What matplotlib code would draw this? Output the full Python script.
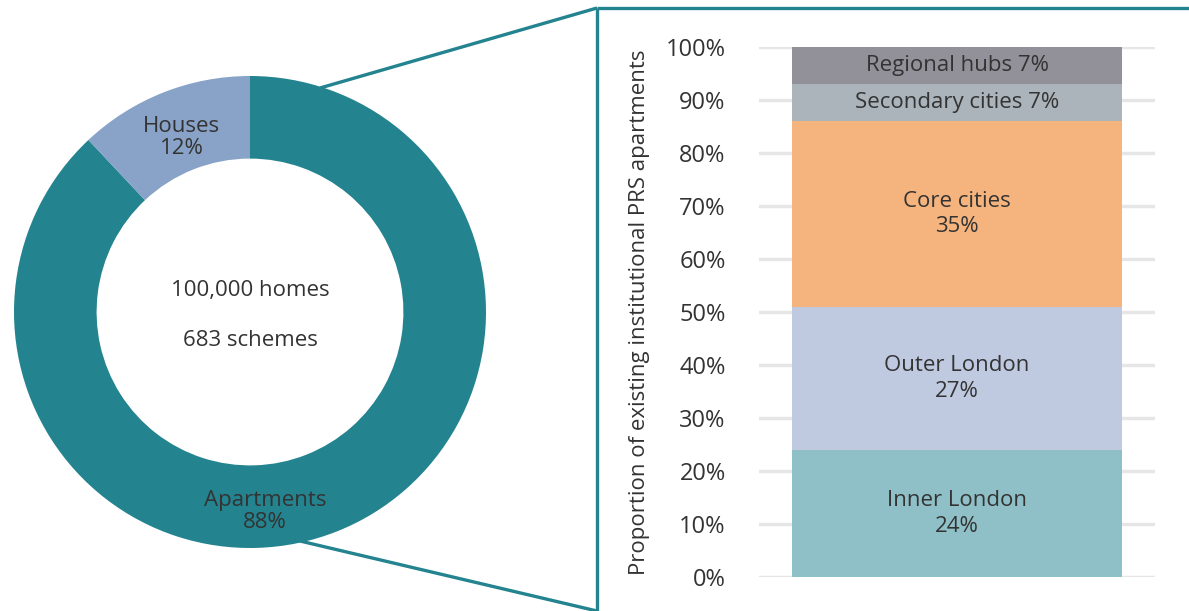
import matplotlib.pyplot as plt
from matplotlib.lines import Line2D

plt.rcParams['font.family'] = ['Open Sans', 'DejaVu Sans']

# Stock split by type (donut)
types = ['Apartments', 'Houses']
type_share = [88, 12]
type_colors = ['#23838f', '#88a3c7']
total_homes = '100,000 homes'
total_schemes = '683 schemes'

# Apartments split by location (stacked bar)
regions = ['Inner London', 'Outer London', 'Core cities', 'Secondary cities', 'Regional hubs']
region_share = [24, 27, 35, 7, 7]
region_colors = ['#90c0c7', '#bfc9e0', '#f5b47e', '#abb4bb', '#929099']
yticks = list(range(0, 101, 10))

teal = '#23838f'
text_col = '#333333'
fs = 16

W, H = 1189, 611
fig = plt.figure(figsize=(W / 100, H / 100), dpi=100)


def fx(px):
    return px / W


def fy(py):
    return 1 - py / H


# --- donut ---
ax1 = fig.add_axes([fx(14), fy(548), fx(472), 472 / H])
ax1.pie(type_share, colors=type_colors, startangle=90, counterclock=False,
        radius=1, wedgeprops=dict(width=0.35, edgecolor='none'))
ax1.set_xlim(-1, 1)
ax1.set_ylim(-1, 1)
ax1.set_aspect('equal')
ax1.axis('off')

ax1.text(0, 0.093, total_homes, ha='center', va='center', fontsize=fs, color=text_col)
ax1.text(0, -0.12, total_schemes, ha='center', va='center', fontsize=fs, color=text_col)
ax1.text(0.064, -0.845, f'{types[0]}\n{type_share[0]}%', ha='center', va='center',
         fontsize=fs, color=text_col, linespacing=1.1)
ax1.text(-0.29, 0.74, f'{types[1]}\n{type_share[1]}%', ha='center', va='center',
         fontsize=fs, color=text_col, linespacing=1.05)

# --- zoom connector and frame ---
lw = 2.4
for (x0, y0), (x1, y1) in [((320, 88), (597, 8)), ((300, 541), (597, 611)),
                           ((597, 8), (597, 611)), ((597, 8), (1189, 8))]:
    fig.add_artist(Line2D([fx(x0), fx(x1)], [fy(y0), fy(y1)], color=teal,
                          lw=lw, transform=fig.transFigure, solid_capstyle='butt'))

# --- stacked bar ---
ax2 = fig.add_axes([fx(759), fy(577), fx(396), 530 / H])
bottom = 0
for name, val, col in zip(regions, region_share, region_colors):
    ax2.bar(0, val, width=0.831, bottom=bottom, color=col, zorder=3)
    mid = bottom + val / 2
    if val < 10:
        lbl = f'{name} {val}%'
    else:
        lbl = f'{name}\n{val}%'
    ax2.text(0, mid, lbl, ha='center', va='center', fontsize=fs,
             color=text_col, zorder=4, linespacing=1.3)
    bottom += val

ax2.set_xlim(-0.5, 0.5)
ax2.set_ylim(0, 100)
ax2.set_yticks(yticks)
ax2.set_yticklabels([f'{t}%' for t in yticks], fontsize=fs + 1, color=text_col)
ax2.set_xticks([])
ax2.tick_params(axis='y', length=0, pad=24)
ax2.yaxis.grid(True, color='#e6e6e6', lw=2.5, zorder=0)
ax2.set_axisbelow(True)
for s in ax2.spines.values():
    s.set_visible(False)
ax2.set_ylabel('Proportion of existing institutional PRS apartments',
               fontsize=fs, color=text_col)
ax2.yaxis.set_label_coords(-0.275, 0.5)

fig.savefig('out.png', dpi=100)
